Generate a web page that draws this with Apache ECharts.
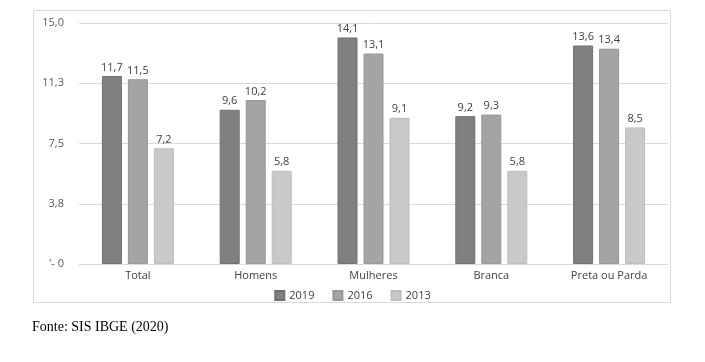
<!DOCTYPE html>
<html>
<head>
<meta charset="utf-8">
<script src="https://cdn.jsdelivr.net/npm/echarts@6/dist/echarts.min.js"></script>
<style>
html,body{margin:0;padding:0;background:#fff;}
#c{width:705px;height:362px;}
</style>
</head>
<body>
<div id="c"></div>
<script>
var categories = ["Total", "Homens", "Mulheres", "Branca", "Preta ou Parda"];
var s2019 = [11.7, 9.6, 14.1, 9.2, 13.6];
var s2016 = [11.5, 10.2, 13.1, 9.3, 13.4];
var s2013 = [7.2, 5.8, 9.1, 5.8, 8.5];
var seriesNames = ["2019", "2016", "2013"];
var yTicks = [0, 3.75, 7.5, 11.25, 15];
var yTickLabels = ["'- 0", "3,8", "7,5", "11,3", "15,0"];

var chart = echarts.init(document.getElementById('c'), null, {renderer: 'canvas'});
var fills = ['#808080', '#a4a4a4', '#c9c9c9'];
var borders = ['#707070', '#979797', '#bdbdbd'];
var font = 'Open Sans, Liberation Sans, sans-serif';

function mk(name, data, i) {
  return {
    name: name,
    type: 'bar',
    data: data,
    barWidth: 20,
    barGap: '30%',
    itemStyle: {color: fills[i], borderColor: borders[i], borderWidth: 1},
    label: {
      show: true, position: 'top', distance: 3,
      color: '#404040', fontSize: 11, fontFamily: font,
      formatter: function (p) { return p.value.toFixed(1).replace('.', ','); }
    }
  };
}

chart.setOption({
  animation: false,
  textStyle: {fontFamily: font},
  grid: {left: 79, right: 37, top: 23, bottom: 98},
  legend: {
    data: seriesNames,
    bottom: 56, left: 'center',
    itemWidth: 9, itemHeight: 9, itemGap: 18,
    icon: 'rect',
    textStyle: {color: '#404040', fontSize: 11, fontFamily: font}
  },
  xAxis: {
    type: 'category',
    data: categories,
    axisLine: {lineStyle: {color: '#d9d9d9'}},
    axisTick: {show: false},
    axisLabel: {color: '#404040', fontSize: 11, margin: 6, fontFamily: font}
  },
  yAxis: {
    type: 'value',
    min: 0, max: 15, interval: 3.75,
    axisLine: {show: false},
    axisTick: {show: false},
    splitLine: {lineStyle: {color: '#d9d9d9', width: 1}},
    axisLabel: {
      color: '#595959', fontSize: 11, margin: 15, fontFamily: font,
      formatter: function (v) {
        var idx = yTicks.indexOf(v);
        return idx >= 0 ? yTickLabels[idx] : '';
      }
    }
  },
  graphic: [
    {type: 'rect', shape: {x: 33.5, y: 10.5, width: 637, height: 292},
     style: {fill: 'none', stroke: '#d9d9d9', lineWidth: 1}, z: -1},
    {type: 'text', left: 32, top: 320,
     style: {text: 'Fonte: SIS IBGE (2020)', fill: '#000', font: '14px "Liberation Serif", "Times New Roman", serif'}}
  ],
  series: [mk(seriesNames[0], s2019, 0), mk(seriesNames[1], s2016, 1), mk(seriesNames[2], s2013, 2)]
});
</script>
</body>
</html>
